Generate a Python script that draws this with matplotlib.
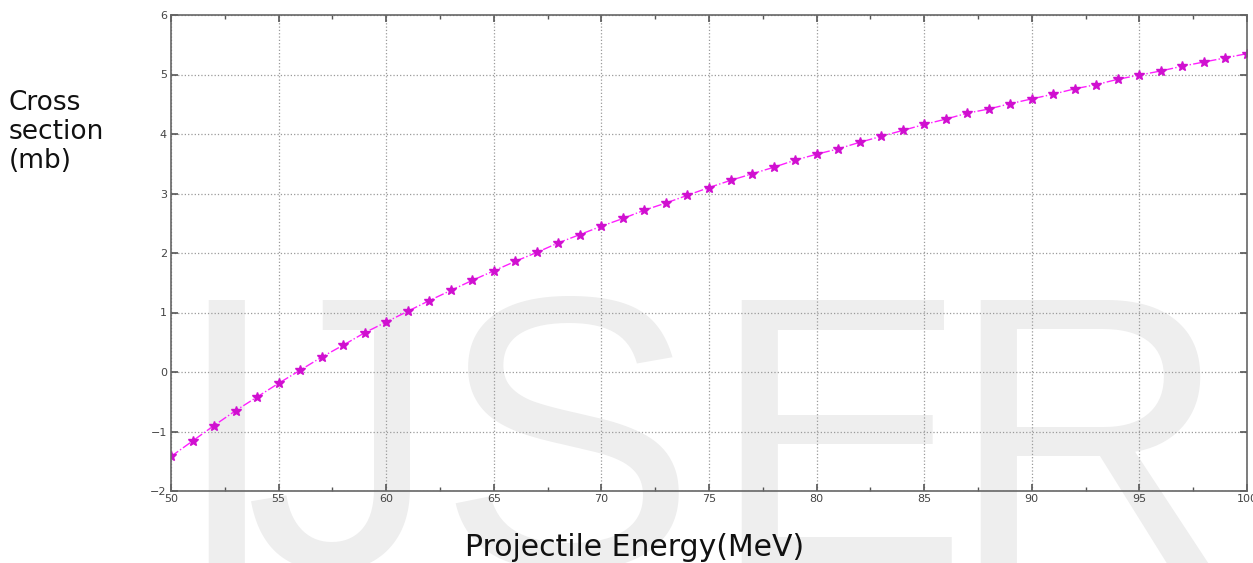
import matplotlib.pyplot as plt
import numpy as np

# Projectile energy (MeV) and cross section (mb)
energy = list(range(50, 101))
cross_section = [
    -1.42, -1.16, -0.90, -0.65, -0.42, -0.19, 0.03, 0.25, 0.45, 0.66,
    0.84, 1.02, 1.20, 1.37, 1.54, 1.70, 1.86, 2.01, 2.17, 2.31,
    2.45, 2.58, 2.72, 2.84, 2.97, 3.10, 3.22, 3.33, 3.44, 3.56,
    3.66, 3.75, 3.86, 3.96, 4.06, 4.16, 4.25, 4.35, 4.42, 4.51,
    4.59, 4.67, 4.76, 4.83, 4.92, 4.99, 5.06, 5.14, 5.21, 5.28,
    5.35,
]
xticks = [50, 55, 60, 65, 70, 75, 80, 85, 90, 95, 100]
yticks = [-2, -1, 0, 1, 2, 3, 4, 5, 6]

# watermark letters and where each one starts (pixels)
mark_letters = ["I", "J", "S", "E", "R"]
mark_left_px = [172, 245, 437, 709, 948]

fig = plt.figure(figsize=(12.53, 5.63), dpi=100)
ax = fig.add_axes([171 / 1253, 1 - 491 / 563, (1247 - 171) / 1253, (491 - 15) / 563])
ax.patch.set_visible(False)

# watermark behind the axes
for letter, left in zip(mark_letters, mark_left_px):
    fig.text(left / 1253, 1 - 567 / 563, letter, fontsize=279, color="#eeeeee",
             family="Liberation Sans", ha="left", va="baseline", zorder=-5)

ax.plot(energy, cross_section, color="#ff20ff", linestyle="-.", linewidth=1.0,
        marker="*", markersize=7, markeredgecolor="#d010d0", markerfacecolor="#d010d0")

ax.set_xlim(50, 100)
ax.set_ylim(-2, 6)
ax.set_xticks(xticks)
ax.set_yticks(yticks)
ax.set_xticks(np.arange(52.5, 100, 5), minor=True)
ax.grid(True, which="major", linestyle=":", color="#9a9a9a", linewidth=0.9)
ax.tick_params(which="both", direction="in", top=True, right=True,
               labelsize=8, labelcolor="#444444", color="#555555")
ax.tick_params(which="major", length=5, width=1.2)
ax.tick_params(which="minor", length=3, width=1.0)
ax.tick_params(axis="x", pad=2)
ax.tick_params(axis="y", pad=3)
for s in ax.spines.values():
    s.set_color("#666666")
    s.set_linewidth(1.2)

fig.text(9 / 1253, 1 - 90 / 563, "Cross\nsection\n(mb)", fontsize=19,
         family="DejaVu Sans", color="#111111", ha="left", va="top", linespacing=1.15)
fig.text(635 / 1253, 1 - 556 / 563, "Projectile Energy(MeV)", fontsize=21.5,
         family="DejaVu Sans", color="#111111", ha="center", va="baseline")

plt.savefig("out.png", dpi=100)
